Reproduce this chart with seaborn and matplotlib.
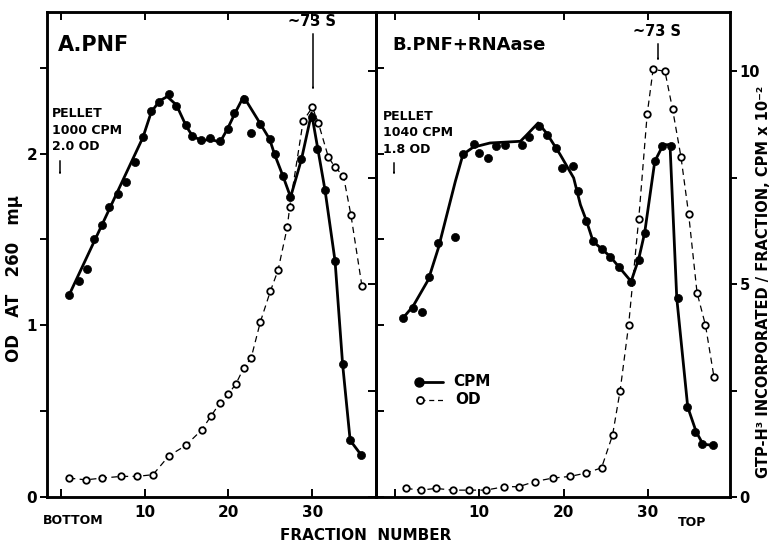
import matplotlib
matplotlib.use("Agg")
import matplotlib.pyplot as plt
from matplotlib.lines import Line2D
from matplotlib.patches import FancyArrowPatch
import pandas as pd
import seaborn as sns

# ---------------- data ----------------
# Panel A: PNF
left_cpm_frac = [1.0, 2.2, 3.1, 4.0, 4.9, 5.8, 6.8, 7.8, 8.8, 9.8, 10.8, 11.7, 12.9, 13.8, 14.9, 15.7,
                 16.7, 17.8, 19.0, 19.9, 20.7, 21.8, 22.7, 23.8, 24.9, 25.5, 26.5, 27.3, 28.7, 29.9,
                 30.5, 31.5, 32.7, 33.6, 34.5, 35.8]
left_cpm = [4.74, 5.06, 5.35, 6.05, 6.38, 6.80, 7.12, 7.40, 7.87, 8.44, 9.06, 9.27, 9.47, 9.19, 8.73, 8.48,
            8.38, 8.43, 8.35, 8.65, 9.01, 9.34, 8.55, 8.76, 8.40, 8.04, 7.53, 7.04, 7.93, 8.93,
            8.16, 7.21, 5.54, 3.12, 1.33, 0.99]
left_curve_frac = [1.0, 9.8, 10.8, 11.8, 12.7, 13.8, 15.0, 15.7, 16.8, 17.8, 19.0, 19.9, 20.8, 21.8,
                   23.8, 24.9, 25.5, 26.5, 27.4, 28.7, 29.9, 31.5, 32.7, 33.6, 34.5, 35.8]
left_curve = [4.74, 8.44, 9.04, 9.30, 9.40, 9.20, 8.69, 8.48, 8.36, 8.40, 8.33, 8.65, 9.02, 9.40,
              8.76, 8.40, 8.04, 7.53, 7.04, 7.93, 9.01, 7.21, 5.54, 3.12, 1.33, 0.99]
left_od_frac = [1.0, 3.0, 4.9, 7.2, 9.1, 11.0, 12.9, 14.9, 16.8, 17.9, 19.0, 20.0, 20.9, 21.8, 22.7,
                23.8, 25.0, 25.9, 27.0, 27.3, 28.9, 30.0, 30.7, 31.9, 32.7, 33.7, 34.6, 35.9]
left_od = [0.11, 0.10, 0.11, 0.12, 0.12, 0.13, 0.24, 0.30, 0.39, 0.47, 0.55, 0.60, 0.66, 0.75, 0.81,
           1.02, 1.20, 1.32, 1.57, 1.69, 2.19, 2.27, 2.18, 1.98, 1.92, 1.87, 1.64, 1.23]

# Panel B: PNF + RNAase
right_cpm_frac = [1.0, 2.2, 3.3, 4.1, 5.2, 7.1, 8.1, 9.4, 10.0, 11.1, 12.0, 13.1, 15.1, 15.9, 17.1,
                  18.1, 19.1, 19.8, 21.1, 21.7, 22.7, 23.5, 24.6, 25.5, 26.6, 28.0, 28.9, 29.6, 30.8,
                  31.7, 32.7, 33.5, 34.6, 35.6, 36.4, 37.7]
right_cpm = [4.20, 4.44, 4.34, 5.16, 5.96, 6.10, 8.06, 8.29, 8.08, 7.96, 8.23, 8.26, 8.27, 8.46, 8.70,
             8.50, 8.19, 7.72, 7.76, 7.18, 6.49, 6.00, 5.82, 5.63, 5.39, 5.05, 5.57, 6.20, 7.88,
             8.23, 8.23, 4.67, 2.11, 1.53, 1.24, 1.21]
right_curve_frac = [1.0, 2.2, 4.0, 5.2, 6.2, 7.2, 8.1, 9.3, 11.3, 14.9, 15.6, 17.0, 18.0, 19.6, 21.2,
                    22.0, 22.7, 23.5, 25.5, 28.0, 28.9, 29.6, 30.8, 31.8, 32.6, 33.4, 34.7, 35.7, 36.5, 37.8]
right_curve = [4.20, 4.48, 5.10, 5.85, 6.63, 7.41, 8.04, 8.21, 8.31, 8.35, 8.49, 8.78, 8.54, 8.04, 7.49,
               6.86, 6.49, 6.00, 5.65, 5.06, 5.59, 6.20, 7.88, 8.27, 8.27, 4.67, 2.11, 1.53, 1.24, 1.21]
right_od_frac = [1.4, 3.1, 4.9, 6.9, 8.8, 10.8, 13.0, 14.7, 16.6, 18.7, 20.8, 22.7, 24.5, 25.8, 26.7,
                 27.7, 28.9, 29.9, 30.6, 32.0, 32.9, 33.9, 34.8, 35.8, 36.8, 37.8]
right_od = [0.05, 0.04, 0.05, 0.04, 0.04, 0.04, 0.06, 0.06, 0.09, 0.11, 0.12, 0.14, 0.17, 0.36, 0.62,
            1.00, 1.62, 2.23, 2.49, 2.48, 2.26, 1.98, 1.65, 1.19, 1.00, 0.70]

x_ticks = [0, 10, 20, 30]
x_tick_labels = ["", "10", "20", "30"]
od_ticks = [0, 0.5, 1, 1.5, 2, 2.5]
od_tick_labels = ["0", "", "1", "", "2", ""]
cpm_ticks = [0, 2.5, 5, 7.5, 10]
cpm_tick_labels = ["0", "", "5", "", "10"]

# ---------------- style ----------------
sns.set_style("ticks", rc={"axes.edgecolor": "black", "text.color": "black",
                           "xtick.color": "black", "ytick.color": "black",
                           "axes.labelcolor": "black"})
plt.rcParams["font.family"] = ["DejaVu Sans"]
plt.rcParams["font.weight"] = "bold"

W, H = 770, 543
fig = plt.figure(figsize=(W / 100, H / 100), dpi=100)


def fx(px):
    return px / W


def fy(py):
    return 1 - py / H


AX_TOP, AX_BOT = 12, 497
OD_TOP, CPM_TOP = (497 - 12) / 171.7, (497 - 12) / 42.6
SP_W = 1.8

axL = fig.add_axes([fx(47), fy(AX_BOT), (376 - 47) / W, (AX_BOT - AX_TOP) / H])
axR = fig.add_axes([fx(376), fy(AX_BOT), (730 - 376) / W, (AX_BOT - AX_TOP) / H])
axLc = axL.twinx()
axRc = axR.twinx()

DOT = dict(marker="o", s=34, color="black", edgecolor="black", linewidth=0.5, zorder=4, clip_on=False)
RING = dict(marker="o", s=22, color="white", edgecolor="black", linewidth=1.3, zorder=5, clip_on=False)

panels = [
    (axL, axLc, left_od_frac, left_od, left_cpm_frac, left_cpm, left_curve_frac, left_curve),
    (axR, axRc, right_od_frac, right_od, right_cpm_frac, right_cpm, right_curve_frac, right_curve),
]
for ax, axc, odf, od, cf, c, lf, lc in panels:
    df_od = pd.DataFrame({"frac": odf, "od": od})
    df_c = pd.DataFrame({"frac": cf, "cpm": c})
    df_l = pd.DataFrame({"frac": lf, "cpm": lc})
    sns.lineplot(data=df_od, x="frac", y="od", ax=ax, color="black", lw=0.9,
                 linestyle=(0, (5, 3.5)), sort=False, estimator=None, zorder=3)
    sns.scatterplot(data=df_od, x="frac", y="od", ax=ax, **RING)
    sns.lineplot(data=df_l, x="frac", y="cpm", ax=axc, color="black", lw=2.0,
                 sort=False, estimator=None, zorder=3)
    sns.scatterplot(data=df_c, x="frac", y="cpm", ax=axc, **DOT)
    for a in (ax, axc):
        a.set_xlabel("")
        a.set_ylabel("")
    ax.set_ylim(0, OD_TOP)
    axc.set_ylim(0, CPM_TOP)
    for a in (ax, axc):
        for s in a.spines.values():
            s.set_linewidth(SP_W)
            s.set_color("black")
    ax.set_xticks(x_ticks)
    ax.set_xticklabels(x_tick_labels)
    ax.tick_params(axis="x", direction="in", top=True, length=6, width=1.4, pad=6,
                   labelsize=11)
    ax.set_yticks(od_ticks)
    axc.set_yticks(cpm_ticks)
    ax.set_zorder(axc.get_zorder() + 1)
    ax.patch.set_visible(False)

axL.set_xlim(-1.63, 37.58)
axR.set_xlim(-2.19, 39.70)

axL.set_yticklabels(od_tick_labels)
axL.tick_params(axis="y", direction="out", length=5, width=1.4, pad=2, labelsize=11)
axLc.set_yticklabels([])
axLc.tick_params(axis="y", direction="in", length=6, width=1.4)

axR.set_yticklabels([])
axR.tick_params(axis="y", direction="in", length=6, width=1.4)
axRc.set_yticklabels(cpm_tick_labels)
axRc.tick_params(axis="y", direction="out", length=5, width=1.4, pad=2, labelsize=10.5)

# ---------------- texts ----------------
fig.text(fx(14), fy(278), "OD   AT   260   mμ", rotation=90, ha="center", va="center",
         fontsize=12, fontweight="bold")
fig.text(fx(763), fy(282), "GTP-H³ INCORPORATED / FRACTION, CPM x 10⁻²", rotation=90,
         ha="center", va="center", fontsize=10.5, fontweight="bold")
fig.text(fx(366), fy(535), "FRACTION  NUMBER", ha="center", va="center", fontsize=11,
         fontweight="bold")
fig.text(fx(73), fy(521), "BOTTOM", ha="center", va="center", fontsize=9, fontweight="bold")
fig.text(fx(692), fy(523), "TOP", ha="center", va="center", fontsize=9, fontweight="bold")

fig.text(fx(58), fy(45), "A.PNF", ha="left", va="center", fontsize=15, fontweight="bold")
fig.text(fx(392), fy(45), "B.PNF+RNAase", ha="left", va="center", fontsize=13, fontweight="bold")

fig.text(fx(52), fy(130), "PELLET\n1000 CPM\n2.0 OD", ha="left", va="center", fontsize=9,
         fontweight="bold", linespacing=1.35)
fig.text(fx(383), fy(133), "PELLET\n1040 CPM\n1.8 OD", ha="left", va="center", fontsize=9,
         fontweight="bold", linespacing=1.35)

arrow = dict(arrowstyle="-|>,head_length=0.5,head_width=0.18", color="black", lw=1.1)
for (x0, y0, y1) in [(60, 158, 178), (394, 160, 178), (313, 31, 93), (658, 41, 64)]:
    fig.add_artist(FancyArrowPatch((fx(x0), fy(y0)), (fx(x0), fy(y1)),
                                   transform=fig.transFigure, **arrow))
fig.text(fx(312), fy(21), "~73 S", ha="center", va="center", fontsize=10.5, fontweight="bold")
fig.text(fx(657), fy(31), "~73 S", ha="center", va="center", fontsize=10.5, fontweight="bold")

# legend (panel B)
fig.add_artist(Line2D([fx(419), fx(443)], [fy(382), fy(382)], transform=fig.transFigure,
                      color="black", lw=2.0, marker="o", markersize=6.5, markevery=[0]))
fig.add_artist(Line2D([fx(420), fx(444)], [fy(400), fy(400)], transform=fig.transFigure,
                      color="black", lw=0.9, linestyle=(0, (4, 3)), marker="o", markersize=5,
                      markerfacecolor="white", markeredgewidth=1.3, markevery=[0]))
fig.text(fx(453), fy(382), "CPM", ha="left", va="center", fontsize=11, fontweight="bold")
fig.text(fx(455), fy(400), "OD", ha="left", va="center", fontsize=11, fontweight="bold")

fig.savefig("out.png", dpi=100)
